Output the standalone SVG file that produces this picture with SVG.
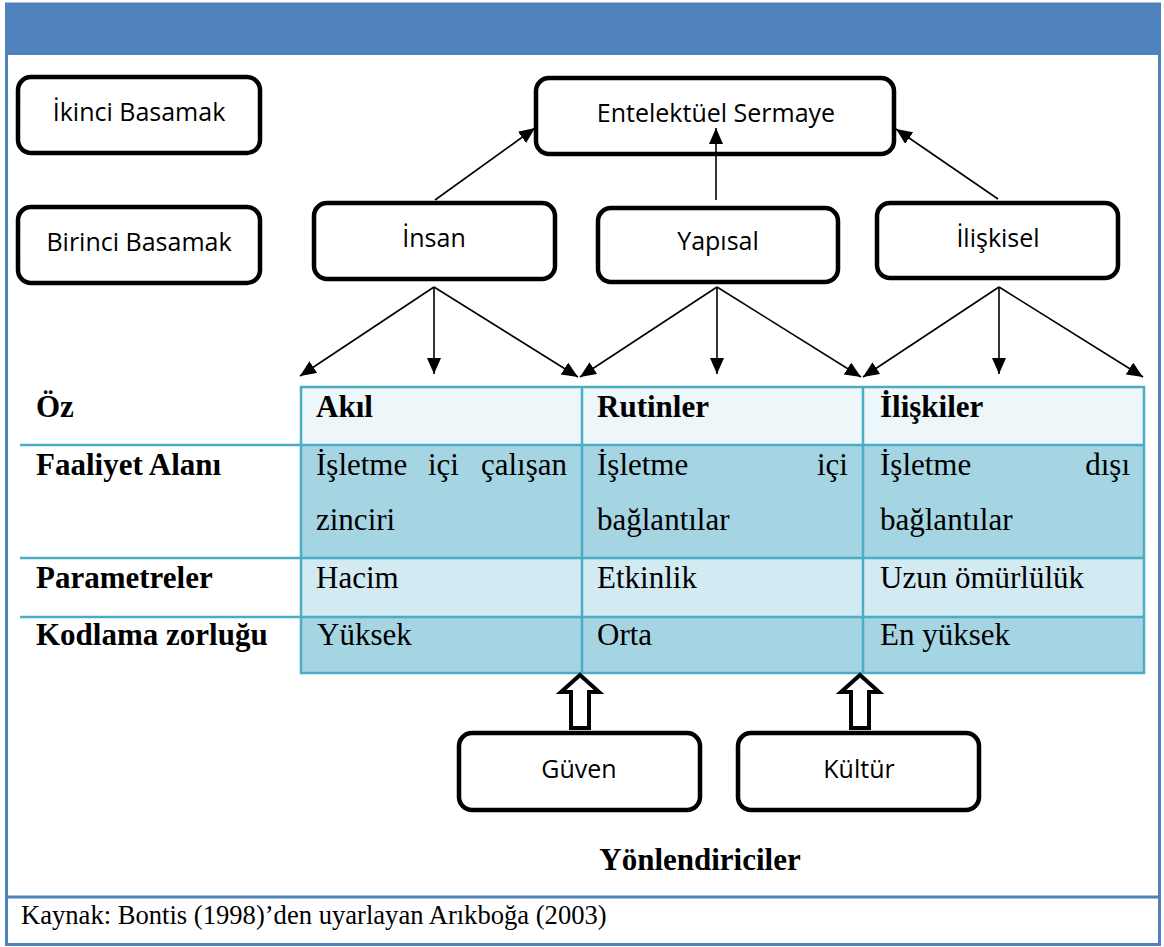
<svg xmlns="http://www.w3.org/2000/svg" width="1164" height="947" viewBox="0 0 1164 947">
  <defs>
    <marker id="ah" viewBox="0 0 16 14" refX="16" refY="7" markerWidth="16" markerHeight="14" markerUnits="userSpaceOnUse" orient="auto">
      <path d="M0,0 L16,7 L0,14 z" fill="#000"/>
    </marker>
    <style>
      .box { fill: #fff; stroke: #000; stroke-width: 4.5; }
      .lbl { font-family: "Open Sans", "Noto Sans", sans-serif; font-size: 25px; fill: #000; text-anchor: middle; }
      .conn { stroke: #000; stroke-width: 1.6; fill: none; marker-end: url(#ah); }
      .blk { fill: #fff; stroke: #000; stroke-width: 4; stroke-linejoin: miter; }
      .grid { stroke: #4BACC6; stroke-width: 2.5; fill: none; }
      .tb { font-family: "Liberation Serif", "Times New Roman", serif; font-size: 31px; fill: #000; }
      .b { font-weight: bold; }
      .src { font-family: "Liberation Serif", "Times New Roman", serif; font-size: 26.6px; fill: #000; }
    </style>
  </defs>

  <!-- frame -->
  <g id="frame">
    <rect x="6.5" y="4" width="1153" height="940.5" fill="#fff" stroke="#4F81BD" stroke-width="3"/>
    <rect x="5" y="3" width="1156" height="52" fill="#4F81BD"/>
    <line x1="6" y1="897" x2="1160" y2="897" stroke="#4F81BD" stroke-width="3"/>
  </g>

  <!-- table -->
  <g id="table">
    <rect x="301" y="387" width="843" height="58" fill="#EDF6F9"/>
    <rect x="301" y="445" width="843" height="113" fill="#A5D5E2"/>
    <rect x="301" y="558" width="843" height="59" fill="#D2EAF1"/>
    <rect x="301" y="617" width="843" height="56" fill="#A5D5E2"/>
    <rect class="grid" x="301" y="387" width="843" height="286"/>
    <line class="grid" x1="582" y1="387" x2="582" y2="673"/>
    <line class="grid" x1="863" y1="387" x2="863" y2="673"/>
    <line class="grid" x1="20" y1="445" x2="1144" y2="445"/>
    <line class="grid" x1="20" y1="558" x2="1144" y2="558"/>
    <line class="grid" x1="20" y1="617" x2="1144" y2="617"/>

    <text class="tb b" x="36" y="417">Öz</text>
    <text class="tb b" x="36" y="475">Faaliyet Alanı</text>
    <text class="tb b" x="36" y="588">Parametreler</text>
    <text class="tb b" x="36" y="645">Kodlama zorluğu</text>

    <text class="tb b" x="316" y="417">Akıl</text>
    <text class="tb b" x="597" y="417">Rutinler</text>
    <text class="tb b" x="880" y="417">İlişkiler</text>

    <text class="tb" x="316" y="475">İşletme</text>
    <text class="tb" x="428" y="475">içi</text>
    <text class="tb" x="567" y="475" text-anchor="end">çalışan</text>
    <text class="tb" x="316" y="530">zinciri</text>

    <text class="tb" x="597" y="475">İşletme</text>
    <text class="tb" x="848" y="475" text-anchor="end">içi</text>
    <text class="tb" x="597" y="530">bağlantılar</text>

    <text class="tb" x="880" y="475">İşletme</text>
    <text class="tb" x="1130" y="475" text-anchor="end">dışı</text>
    <text class="tb" x="880" y="530">bağlantılar</text>

    <text class="tb" x="316" y="588">Hacim</text>
    <text class="tb" x="597" y="588">Etkinlik</text>
    <text class="tb" x="880" y="588">Uzun ömürlülük</text>

    <text class="tb" x="317" y="645">Yüksek</text>
    <text class="tb" x="597" y="645">Orta</text>
    <text class="tb" x="880" y="645">En yüksek</text>
  </g>

  <!-- nodes -->
  <g id="ikinci-basamak">
    <rect class="box" x="18" y="77" width="242" height="76" rx="13"/>
    <text class="lbl" x="139" y="121">İkinci Basamak</text>
  </g>
  <g id="birinci-basamak">
    <rect class="box" x="18" y="207" width="242" height="76" rx="13"/>
    <text class="lbl" x="139" y="251">Birinci Basamak</text>
  </g>
  <g id="entelektuel-sermaye">
    <rect class="box" x="536" y="78" width="358" height="76" rx="13"/>
    <text class="lbl" x="716" y="122">Entelektüel Sermaye</text>
  </g>
  <g id="insan">
    <rect class="box" x="314" y="203" width="241" height="76" rx="13"/>
    <text class="lbl" x="434" y="247">İnsan</text>
  </g>
  <g id="yapisal">
    <rect class="box" x="598" y="208" width="240" height="74" rx="13"/>
    <text class="lbl" x="718" y="250">Yapısal</text>
  </g>
  <g id="iliskisel">
    <rect class="box" x="877" y="203" width="241" height="75" rx="13"/>
    <text class="lbl" x="998" y="247">İlişkisel</text>
  </g>
  <g id="guven">
    <rect class="box" x="459" y="733" width="241" height="77" rx="13"/>
    <text class="lbl" x="579" y="778">Güven</text>
  </g>
  <g id="kultur">
    <rect class="box" x="738" y="733" width="241" height="77" rx="13"/>
    <text class="lbl" x="859" y="778">Kültür</text>
  </g>
  <g id="yonlendiriciler">
    <text class="tb b" x="700" y="870" text-anchor="middle">Yönlendiriciler</text>
  </g>
  <g id="source">
    <text class="src" x="21" y="924">Kaynak: Bontis (1998)’den uyarlayan Arıkboğa (2003)</text>
  </g>

  <!-- connectors -->
  <g id="connectors">
    <line class="conn" x1="435" y1="200" x2="535" y2="128"/>
    <line class="conn" x1="716" y1="200" x2="716" y2="128"/>
    <line class="conn" x1="998" y1="199" x2="896" y2="129"/>

    <line class="conn" x1="434" y1="287" x2="300" y2="376"/>
    <line class="conn" x1="434" y1="287" x2="434" y2="374"/>
    <line class="conn" x1="434" y1="287" x2="578" y2="377"/>

    <line class="conn" x1="717" y1="287" x2="580" y2="377"/>
    <line class="conn" x1="717" y1="287" x2="717" y2="374"/>
    <line class="conn" x1="717" y1="287" x2="861" y2="377"/>

    <line class="conn" x1="999" y1="287" x2="863" y2="377"/>
    <line class="conn" x1="999" y1="287" x2="999" y2="374"/>
    <line class="conn" x1="999" y1="287" x2="1143" y2="377"/>

    <polygon class="blk" points="580,675 599,692 589,692 589,728 571,728 571,692 561,692"/>
    <polygon class="blk" points="860,675 879,692 869,692 869,728 851,728 851,692 841,692"/>
  </g>
</svg>
